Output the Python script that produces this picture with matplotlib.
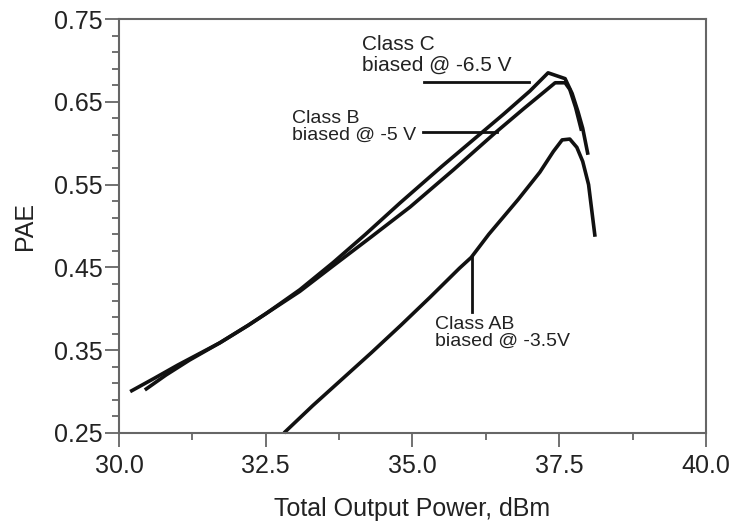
import matplotlib
matplotlib.use("Agg")
import matplotlib.pyplot as plt
import numpy as np
from matplotlib.ticker import FormatStrFormatter

# === DATA ===
class_c_x = [30.44, 30.8, 31.2, 31.72, 32.2, 32.5, 33.08, 33.65, 34.2, 34.79,
             35.5, 36.2, 36.55, 37.0, 37.31, 37.6, 37.72, 37.82, 37.9, 37.99]
class_c_y = [0.302, 0.320, 0.338, 0.359, 0.380, 0.394, 0.423, 0.456, 0.490,
             0.528, 0.572, 0.614, 0.635, 0.663, 0.685, 0.678, 0.660, 0.638,
             0.618, 0.586]

class_b_x = [30.19, 30.6, 31.0, 31.72, 32.2, 32.5, 33.08, 33.65, 34.3, 34.96,
             35.7, 36.4, 36.9, 37.26, 37.43, 37.6, 37.68, 37.78, 37.88]
class_b_y = [0.300, 0.316, 0.332, 0.359, 0.380, 0.394, 0.421, 0.452, 0.487,
             0.523, 0.568, 0.612, 0.642, 0.663, 0.673, 0.673, 0.665, 0.643,
             0.615]

class_ab_x = [32.81, 33.3, 33.8, 34.3, 34.8, 35.3, 35.8, 36.0, 36.3, 36.8,
              37.17, 37.4, 37.55, 37.68, 37.8, 37.9, 38.0, 38.11]
class_ab_y = [0.250, 0.283, 0.315, 0.347, 0.380, 0.414, 0.449, 0.462, 0.490,
              0.532, 0.565, 0.590, 0.604, 0.605, 0.595, 0.578, 0.550, 0.487]

# === STYLE ===
FONT = "Liberation Sans"
LABEL_FONTSIZE = 18
TICK_FONTSIZE = 18
NOTE_FONTSIZE = 14
NOTE_C_FONTSIZE = 15
CURVE_WIDTH = 2.6
SPINE_COLOR = '#666666'
TEXT_COLOR = '#222222'

plt.rcParams['font.family'] = FONT

fig = plt.figure(figsize=(7.36, 5.27), dpi=100)
ax = fig.add_axes([0.1617, 0.1784, 0.7975, 0.7855])

for xs, ys in [(class_c_x, class_c_y), (class_b_x, class_b_y),
               (class_ab_x, class_ab_y)]:
    ax.plot(xs, ys, color='#111111', linewidth=CURVE_WIDTH,
            solid_capstyle='butt', solid_joinstyle='round', clip_on=False)

ax.set_xlim(30.0, 40.0)
ax.set_ylim(0.25, 0.75)

ax.set_xticks(np.arange(30.0, 40.01, 2.5))
ax.set_xticks(np.arange(30.0, 40.01, 1.25), minor=True)
ax.set_yticks(np.arange(0.25, 0.751, 0.1))
ax.set_yticks(np.arange(0.25, 0.751, 0.02), minor=True)
ax.xaxis.set_major_formatter(FormatStrFormatter('%.1f'))
ax.yaxis.set_major_formatter(FormatStrFormatter('%.2f'))

for s in ax.spines.values():
    s.set_color(SPINE_COLOR)
    s.set_linewidth(1.5)

ax.tick_params(which='major', direction='out', length=10, width=1.3,
               color=SPINE_COLOR, labelsize=TICK_FONTSIZE,
               labelcolor=TEXT_COLOR)
ax.tick_params(which='minor', direction='out', length=5, width=1.3,
               color=SPINE_COLOR)
ax.tick_params(axis='y', which='major', pad=2)
ax.tick_params(axis='x', which='major', pad=5)
ax.tick_params(which='both', top=False, right=False)

ax.set_xlabel("Total Output Power, dBm", fontsize=LABEL_FONTSIZE,
              color=TEXT_COLOR, labelpad=14)
ax.set_ylabel("PAE", fontsize=LABEL_FONTSIZE, color=TEXT_COLOR, labelpad=12)

# === Annotations ===
ax.text(34.14, 0.731, "Class C\nbiased @ -6.5 V", fontsize=NOTE_C_FONTSIZE,
        va='top', ha='left', linespacing=1.15, color=TEXT_COLOR)
ax.plot([35.2, 36.98], [0.674, 0.674], color='#111111', linewidth=2)

ax.text(32.95, 0.640, "Class B\nbiased @ -5 V", fontsize=NOTE_FONTSIZE,
        va='top', ha='left', linespacing=0.95, color=TEXT_COLOR)
ax.plot([35.18, 36.44], [0.6135, 0.6135], color='#111111', linewidth=2)

ax.plot([36.01, 36.01], [0.462, 0.396], color='#111111', linewidth=2)
ax.text(35.38, 0.391, "Class AB\nbiased @ -3.5V", fontsize=NOTE_FONTSIZE,
        va='top', ha='left', linespacing=0.95, color=TEXT_COLOR)

fig.savefig("out.png", dpi=100)
